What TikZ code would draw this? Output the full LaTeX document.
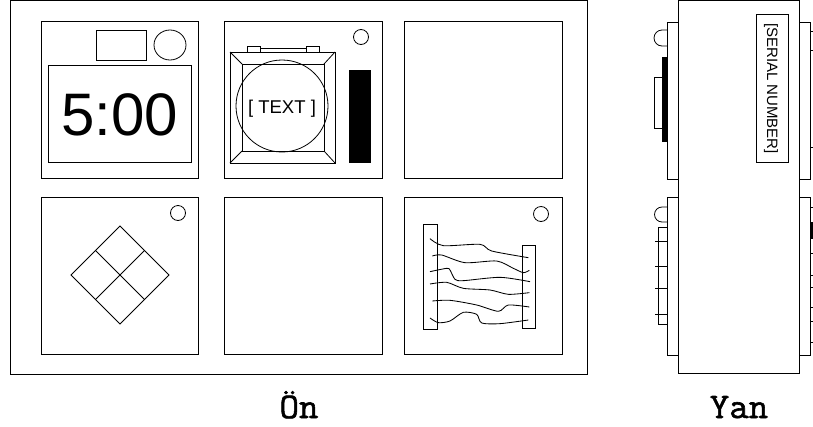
\documentclass[tikz,border=0pt]{standalone}
\usepackage{fontspec}
\setmainfont{Liberation Sans}
\newfontfamily\capfont[FakeBold=1.6,FakeStretch=1.05]{Latin Modern Mono}
\tikzset{
  ln/.style={draw=black,line width=0.9pt,fill=none},
  thinln/.style={draw=black,line width=0.8pt},
  wire/.style={draw=black,line width=0.85pt,line join=round},
  solidbox/.style={fill=black,draw=none},
  lbl/.style={font=\capfont\fontsize{36}{36}\selectfont,inner sep=0pt,anchor=base},
  sans/.style={inner sep=0pt,anchor=base}
}
\begin{document}
\begin{tikzpicture}[x=1pt,y=-1pt]
\useasboundingbox (0,0) rectangle (813,426);
\fill[white] (0,0) rectangle (813,426);
% front
\draw[ln] (10.5,0.5) rectangle (587,374);
\foreach \xa/\xb in {41/198,224/382,404/562}{
  \draw[ln] (\xa,21.5) rectangle (\xb,178.5);
  \draw[ln] (\xa,197) rectangle (\xb,354.5);
}
% panel 1
\draw[thinln] (96,30) rectangle (146,60);
\draw[thinln] (170,45) ellipse [x radius=16,y radius=15];
\draw[ln] (48,65) rectangle (191,162);
\node[sans,font=\fontsize{60}{60}\selectfont] (clock) at (119.5,135) {5:00};
% panel 2
\draw[thinln] (361,37) circle [radius=7.5];
\fill[solidbox] (349,70) rectangle (371,163);
\draw[ln] (230,52) rectangle (335,163);
\draw[ln] (242,64) rectangle (324,151);
\draw[thinln] (230,52) -- (242,64) (335,52) -- (324,64) (230,163) -- (242,151) (335,163) -- (324,151);
\draw[thinln] (282,106) circle [radius=46];
\draw[ln] (247,46) rectangle (260,52);
\draw[ln] (306,46) rectangle (319,52);
\draw[ln] (260,48) rectangle (306,52);
\node[sans,font=\fontsize{18.5}{18.5}\selectfont] (btn) at (282,113) {[ TEXT ]};
% panel 4
\draw[thinln] (178,213) circle [radius=7.5];
\draw[thinln] (120,226) -- (169,275) -- (120,324) -- (71,275) -- cycle;
\draw[thinln] (95.5,250.5) -- (144.5,299.5) (144.5,250.5) -- (95.5,299.5);
% panel 6
\draw[thinln] (541,214) circle [radius=7.5];
\draw[ln] (423,224) rectangle (437,329);
\draw[ln] (522,245) rectangle (535,328);
\begin{scope}[shift={(400,195)},x=0.3333pt,y=-0.3333pt]
\draw[wire] plot[smooth,tension=.45] coordinates {(90,131)(130,152)(240,148)(275,168)(385,188)};
\draw[wire] plot[smooth,tension=.45] coordinates {(97,183)(125,180)(195,203)(290,198)(340,220)(370,233)(388,226)};
\draw[wire] plot[smooth,tension=.45] coordinates {(90,230)(140,220)(150,225)(165,253)(190,257)(300,247)(390,260)};
\draw[wire] plot[smooth,tension=.45] coordinates {(90,267)(140,262)(190,280)(270,285)(325,298)(388,293)};
\draw[wire] plot[smooth,tension=.45] coordinates {(97,318)(150,316)(230,330)(295,349)(325,330)(388,336)};
\draw[wire] plot[smooth,tension=.45] coordinates {(90,369)(115,383)(150,378)(190,352)(230,358)(245,384)(300,386)(385,375)};
\end{scope}
% side
\draw[ln] (667,22) rectangle (678,179);
\draw[ln] (667,197) rectangle (678,355);
\draw[ln] (799,22) rectangle (810.5,179);
\draw[ln] (799,197) rectangle (810.5,355);
\draw[ln] (678,0.5) rectangle (799,373);
\draw[ln] (756,14) rectangle (788,162);
\node[sans,rotate=-90,font=\fontsize{15}{15}\selectfont] (serial) at (767,88.5) {[SERIAL NUMBER]};
% top side details
\draw[thinln] (667,30) -- (662,30) arc[start angle=-90,end angle=-270,radius=8] -- (667,46);
\draw[thinln] (654,77) rectangle (662,128);
\fill[solidbox] (662,57) rectangle (667,142);
\foreach \y in {31,50,147}{\draw[thinln] (810.5,\y) -- (813,\y);}
% bottom side details
\draw[thinln] (667,207) -- (662,207) arc[start angle=-90,end angle=-270,radius=7.5] -- (667,222);
\draw[ln] (658,227) rectangle (667,324);
\foreach \y in {241,266,288,314}{\draw[thinln] (655,\y) -- (667,\y);}
\foreach \y in {207,253,275,287,307,321,342}{\draw[thinln] (810.5,\y) -- (813,\y);}
\fill[solidbox] (810.5,222) rectangle (813,239);
% captions
\node[lbl] (front) at (299,418) {Ön};
\node[lbl] (sideview) at (739,418) {Yan};
\end{tikzpicture}
\end{document}
